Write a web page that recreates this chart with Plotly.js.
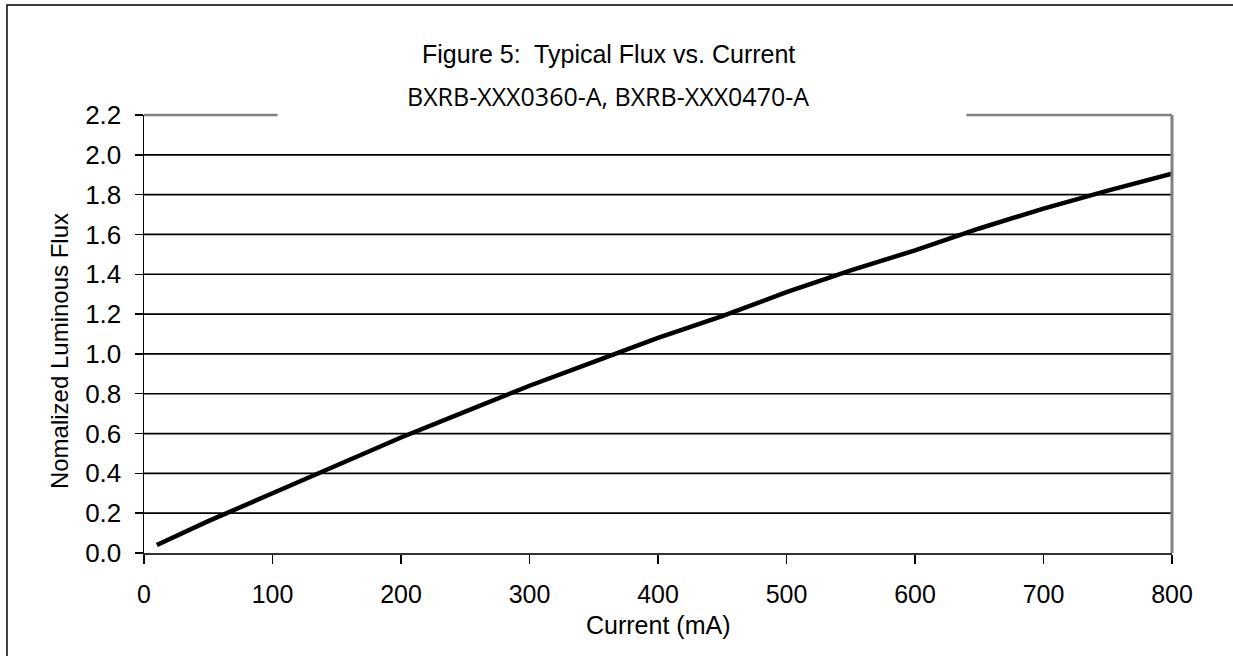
<!DOCTYPE html>
<html>
<head>
<meta charset="utf-8">
<script src="https://cdn.plot.ly/plotly-3.0.1.min.js"></script>
<style>html,body{margin:0;padding:0;background:#fff;}#chart{width:1233px;height:656px;}</style>
</head>
<body>
<div id="chart"></div>
<script>
// Data
const currentMA = [10, 50, 100, 150, 200, 250, 300, 350, 400, 450, 500, 550, 600, 650, 700, 750, 800];
const relFlux   = [0.04, 0.16, 0.30, 0.44, 0.58, 0.71, 0.84, 0.96, 1.08, 1.19, 1.31, 1.42, 1.52, 1.63, 1.73, 1.82, 1.905];
const xTicks = [0, 100, 200, 300, 400, 500, 600, 700, 800];
const yTicks = [0.0, 0.2, 0.4, 0.6, 0.8, 1.0, 1.2, 1.4, 1.6, 1.8, 2.0, 2.2];
const yTickText = yTicks.map(v => v.toFixed(1));
const gridVals = [0.2, 0.4, 0.6, 0.8, 1.0, 1.2, 1.4, 1.6, 1.8, 2.0];

const FONT = "Liberation Sans, Arial, sans-serif";

const shapes = [];
gridVals.forEach(v => shapes.push({type:'line', xref:'paper', yref:'y', x0:0, x1:1, y0:v, y1:v,
  line:{color:'#000', width:1.7}, layer:'below'}));
// right border (gray)
shapes.push({type:'line', xref:'paper', yref:'paper', x0:1, x1:1, y0:0, y1:1, line:{color:'#808080', width:3}});
// top border segments (gray), interrupted by the title
shapes.push({type:'line', xref:'paper', yref:'paper', x0:0, x1:0.130, y0:1, y1:1, line:{color:'#808080', width:2.5}});
shapes.push({type:'line', xref:'paper', yref:'paper', x0:0.800, x1:1, y0:1, y1:1, line:{color:'#808080', width:2.5}});
// outer frame
shapes.push({type:'path', xref:'paper', yref:'paper', path:'M -0.1333,-0.25 L -0.1333,1.2511 L 1.1,1.2511',
  line:{color:'#000', width:1.5}});

const trace = {x: currentMA, y: relFlux, type:'scatter', mode:'lines',
  line:{color:'#000', width:4.5}, hoverinfo:'skip', cliponaxis:false};

const layout = {
  width:1233, height:656,
  margin:{l:144, r:61, t:115, b:103},
  paper_bgcolor:'#fff', plot_bgcolor:'#fff',
  showlegend:false,
  font:{family:FONT, color:'#000'},
  xaxis:{range:[0,800], tickvals:xTicks, ticktext:xTicks.map(String), showgrid:false, zeroline:false,
    showline:true, linecolor:'#333', linewidth:2, ticks:'outside', ticklen:9, tickwidth:1.5, tickcolor:'#000',
    tickfont:{family:FONT, size:25, color:'#000'}, ticklabelstandoff:9},
  yaxis:{range:[0,2.2], tickvals:yTicks, ticktext:yTickText, showgrid:false, zeroline:false,
    showline:true, linecolor:'#000', linewidth:1.5, ticks:'outside', ticklen:8, tickwidth:1.5, tickcolor:'#000',
    tickfont:{family:FONT, size:26, color:'#000'}, ticklabelstandoff:8},
  shapes: shapes,
  annotations:[
    {text:'Figure 5:\u00a0 Typical Flux vs. Current', xref:'paper', yref:'paper', x:0.4514, y:1.139,
      xanchor:'center', yanchor:'middle', showarrow:false, font:{family:FONT, size:25, color:'#000'}},
    {text:'BXRB-XXX0360-A, BXRB-XXX0470-A', xref:'paper', yref:'paper', x:0.4514, y:1.0434,
      xanchor:'center', yanchor:'middle', showarrow:false, font:{family:'Open Sans, sans-serif', size:25, color:'#000'}},
    {text:'Nomalized Luminous Flux', xref:'paper', yref:'paper', x:-0.0827, y:0.461, textangle:-90,
      xanchor:'center', yanchor:'middle', showarrow:false, font:{family:FONT, size:24, color:'#000'}},
    {text:'Current (mA)', xref:'paper', yref:'paper', x:0.5, y:-0.164,
      xanchor:'center', yanchor:'middle', showarrow:false, font:{family:FONT, size:25, color:'#000'}}
  ]
};

Plotly.newPlot('chart', [trace], layout, {staticPlot:true, displayModeBar:false});
</script>
</body>
</html>
